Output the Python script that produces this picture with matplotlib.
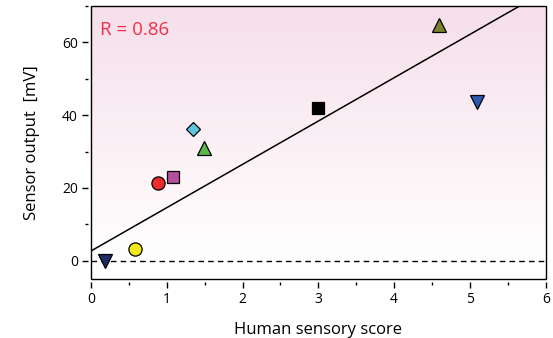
import matplotlib.pyplot as plt
import numpy as np
from matplotlib.patches import Rectangle
from matplotlib.ticker import MultipleLocator

plt.rcParams["font.family"] = ["Open Sans", "DejaVu Sans"]

# data
score = [0.18, 0.58, 0.88, 1.08, 1.34, 1.49, 2.99, 4.59, 5.10]
output = [0.0, 3.2, 21.3, 23.1, 36.1, 31.0, 42.1, 64.9, 43.6]
markers = ["v", "o", "o", "s", "D", "^", "s", "^", "v"]
colors = ["#1c2a66", "#f4e81c", "#ee2b2b", "#b5509f", "#5cc6dc",
          "#58b947", "#000000", "#7b8330", "#2d59b0"]
sizes = [10, 9.5, 9.5, 9, 7.5, 10, 9, 10, 10]
fit_intercept = 2.7
fit_slope = 11.9
r_text = "R = 0.86"

fig = plt.figure(figsize=(5.53, 3.38), dpi=100)
ax = fig.add_axes([0.1646, 0.1746, 0.8222, 0.8076])
ax.set_xlim(0, 6)
ax.set_ylim(-5, 70)

# pink to white background gradient
top = np.array([0.965, 0.875, 0.918])
frac = np.clip(np.linspace(70, -5, 256) / 70, 0, 1).reshape(-1, 1, 1)
img = (1 - frac) * np.ones(3) + frac * top
ax.imshow(img, extent=[0, 6, -5, 70], aspect="auto", zorder=0,
          interpolation="bilinear")

ax.axhline(0, color="black", lw=1, ls=(0, (4, 3)), zorder=1)
xs = np.array([0, 6])
ax.plot(xs, fit_intercept + fit_slope * xs, color="black", lw=1.1, zorder=2)

for x, y, m, c, s in zip(score, output, markers, colors, sizes):
    ax.plot(x, y, marker=m, ms=s, mfc=c, mec="black", mew=0.9, ls="none", zorder=3)

ax.text(0.02, 0.945, r_text, transform=ax.transAxes, color="#f0304a",
        fontsize=13.5, va="top", ha="left")

# frame with detached ticks
for sp in ax.spines.values():
    sp.set_visible(False)
ax.spines["left"].set_position(("outward", 2.5))
ax.spines["bottom"].set_position(("outward", 2.5))
ax.add_patch(Rectangle((0, 0), 1, 1, transform=ax.transAxes, fill=False,
                       ec="black", lw=1.0, zorder=5, clip_on=False))

ax.xaxis.set_major_locator(MultipleLocator(1))
ax.xaxis.set_minor_locator(MultipleLocator(0.5))
ax.yaxis.set_major_locator(MultipleLocator(20))
ax.yaxis.set_minor_locator(MultipleLocator(10))
ax.set_yticks([0, 20, 40, 60])
ax.tick_params(which="major", length=4, width=1, labelsize=10, pad=3)
ax.tick_params(which="minor", length=2, width=1)

ax.set_xlabel("Human sensory score", fontsize=12, labelpad=11)
ax.set_ylabel("Sensor output  [mV]", fontsize=12, labelpad=16)

fig.savefig("out.png", dpi=100)
